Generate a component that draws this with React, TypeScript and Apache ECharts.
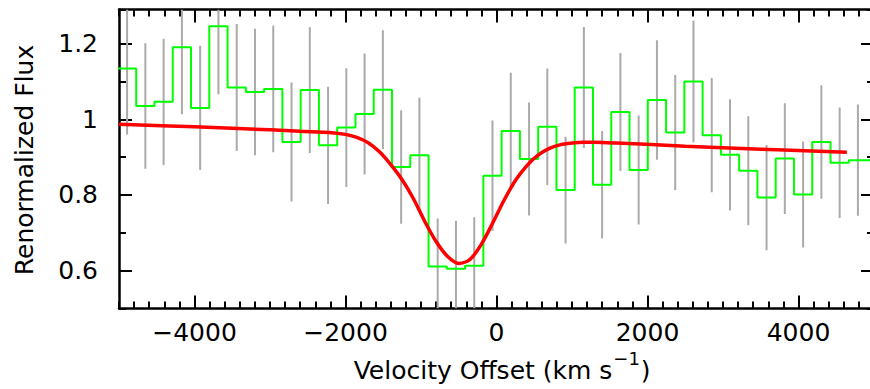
import React, { useEffect, useRef } from 'react';
import * as echarts from 'echarts';

// Bin centres (km/s) of the binned spectrum
const velocity = [
  -4893, -4651, -4409, -4167, -3925, -3683, -3441, -3199, -2957, -2715,
  -2473, -2231, -1989, -1747, -1505, -1263, -1021, -779, -537, -295,
  -53, 189, 431, 673, 915, 1157, 1399, 1641, 1883, 2125,
  2367, 2609, 2851, 3093, 3335, 3577, 3819, 4061, 4303, 4545,
  4787, 5029,
];
// Renormalized flux per bin (green histogram)
const flux = [
  1.134, 1.035, 1.046, 1.19, 1.03, 1.246, 1.084, 1.072, 1.08, 0.94,
  1.077, 0.931, 0.978, 1.014, 1.078, 0.874, 0.905, 0.611, 0.605, 0.613,
  0.851, 0.969, 0.895, 0.98, 0.813, 1.084, 0.827, 1.019, 0.866, 1.051,
  0.965, 1.1, 0.958, 0.906, 0.864, 0.793, 0.896, 0.801, 0.94, 0.885,
  0.892, 0.892,
];
// 1-sigma errors per bin (grey bars)
const fluxErr = [
  0.174, 0.166, 0.167, 0.177, 0.164, 0.18, 0.168, 0.167, 0.167, 0.157,
  0.166, 0.155, 0.157, 0.16, 0.157, 0.15, 0.152, 0.127, 0.127, 0.128,
  0.146, 0.154, 0.149, 0.154, 0.141, 0.16, 0.142, 0.156, 0.144, 0.158,
  0.152, 0.161, 0.151, 0.147, 0.144, 0.139, 0.146, 0.14, 0.15, 0.146,
  0.147, 0.147,
];
// Model fit (red curve)
const modelVelocity = [
  -5000, -4000, -3000, -2600, -2300, -2150, -2000, -1850, -1700, -1550,
  -1400, -1250, -1100, -950, -800, -650, -500, -350, -200, -50,
  100, 250, 400, 550, 700, 850, 1000, 1150, 1300, 1600,
  2500, 3500, 4640,
];
const modelFlux = [
  0.987, 0.98, 0.972, 0.968, 0.966, 0.964, 0.96, 0.952, 0.938, 0.914,
  0.88, 0.84, 0.79, 0.73, 0.677, 0.638, 0.619, 0.63, 0.67, 0.726,
  0.786, 0.838, 0.877, 0.905, 0.923, 0.933, 0.937, 0.939, 0.939, 0.937,
  0.929, 0.921, 0.913,
];
const xTickValues = [-4000, -2000, 0, 2000, 4000];
const yTickValues = [0.6, 0.8, 1.0, 1.2];

const X_MIN = -5000;
const X_MAX = 5000;
const Y_MIN = 0.5;
const Y_MAX = 1.29;
const FONT = '"DejaVu Sans", sans-serif';

function xAxisDef(position: string, major: boolean, labels: boolean) {
  return {
    type: 'value',
    position,
    min: X_MIN,
    max: X_MAX,
    interval: 200,
    axisLine: { show: !major, onZero: false, lineStyle: { color: '#000', width: 2.5 } },
    axisTick: major
      ? { show: true, inside: true, length: 13, customValues: xTickValues, lineStyle: { color: '#000', width: 2 } }
      : { show: true, inside: true, length: 7, lineStyle: { color: '#000', width: 2 } },
    axisLabel: labels
      ? {
          show: true,
          customValues: xTickValues,
          formatter: (v: number) => (v < 0 ? '\u2212' + Math.abs(v) : String(v)),
          fontSize: 25,
          fontFamily: FONT,
          color: '#000',
          margin: 11,
        }
      : { show: false },
    splitLine: { show: false },
    minorTick: { show: false },
  };
}

function yAxisDef(position: string, major: boolean, labels: boolean) {
  return {
    type: 'value',
    position,
    min: Y_MIN,
    max: Y_MAX,
    interval: 0.1,
    axisLine: { show: !major, onZero: false, lineStyle: { color: '#000', width: 2.5 } },
    axisTick: major
      ? { show: true, inside: true, length: 13, customValues: yTickValues, lineStyle: { color: '#000', width: 2 } }
      : { show: true, inside: true, length: 7, lineStyle: { color: '#000', width: 2 } },
    axisLabel: labels
      ? {
          show: true,
          customValues: yTickValues,
          formatter: (v: number) => String(Math.round(v * 10) / 10),
          fontSize: 25,
          fontFamily: FONT,
          color: '#000',
          margin: 21,
        }
      : { show: false },
    splitLine: { show: false },
  };
}

function measure(text: string, size: number): number {
  const ctx = document.createElement('canvas').getContext('2d');
  if (!ctx) return text.length * size * 0.55;
  ctx.font = `${size}px "DejaVu Sans"`;
  return ctx.measureText(text).width;
}

export default function App() {
  const ref = useRef<HTMLDivElement>(null);
  useEffect(() => {
    if (!ref.current) return;
    const chart = echarts.init(ref.current, null, { renderer: 'svg' });

    const n = velocity.length;
    const edges: number[] = [];
    for (let i = 0; i <= n; i++) {
      if (i === 0) edges.push(velocity[0] - (velocity[1] - velocity[0]) / 2);
      else if (i === n) edges.push(velocity[n - 1] + (velocity[n - 1] - velocity[n - 2]) / 2);
      else edges.push((velocity[i - 1] + velocity[i]) / 2);
    }
    const stepData = flux.map((f, i) => [edges[i], f]);
    stepData.push([edges[n], flux[n - 1]]);
    const errData = velocity.map((v, i) => [v, flux[i] - fluxErr[i], flux[i] + fluxErr[i]]);
    const modelData = modelVelocity.map((v, i) => [v, modelFlux[i]]);

    const mainText = 'Velocity Offset (km s';
    const supText = '\u22121';
    const parText = ')';
    const wMain = measure(mainText, 25);
    const wSup = measure(supText, 18);
    const x0 = 483 - wMain / 2;
    const xSup = x0 + wMain + 1;
    const xPar = xSup + wSup + 1;

    chart.setOption({
      animation: false,
      backgroundColor: '#fff',
      grid: { left: 119, top: 9.5, width: 755, height: 299, containLabel: false },
      xAxis: [
        xAxisDef('bottom', false, true),
        xAxisDef('bottom', true, false),
        xAxisDef('top', false, false),
        xAxisDef('top', true, false),
      ],
      yAxis: [
        yAxisDef('left', false, true),
        yAxisDef('left', true, false),
        yAxisDef('right', false, false),
        yAxisDef('right', true, false),
      ],
      series: [
        {
          type: 'custom',
          xAxisIndex: 0,
          yAxisIndex: 0,
          data: errData,
          clip: true,
          z: 1,
          encode: { x: 0, y: [1, 2] },
          renderItem: (_params: any, api: any) => {
            const x = api.value(0);
            if (x < X_MIN || x > X_MAX) return { type: 'group', children: [] };
            const lo = Math.max(Y_MIN, api.value(1));
            const hi = Math.min(Y_MAX, api.value(2));
            const p1 = api.coord([x, lo]);
            const p2 = api.coord([x, hi]);
            return {
              type: 'line',
              shape: { x1: p1[0], y1: p1[1], x2: p2[0], y2: p2[1] },
              style: { stroke: '#aaaaaa', lineWidth: 2 },
            };
          },
        },
        {
          type: 'line',
          xAxisIndex: 0,
          yAxisIndex: 0,
          data: stepData,
          step: 'end',
          symbol: 'none',
          clip: true,
          z: 2,
          lineStyle: { color: '#00ff00', width: 2 },
        },
        {
          type: 'line',
          xAxisIndex: 0,
          yAxisIndex: 0,
          data: modelData,
          smooth: 0.3,
          symbol: 'none',
          clip: true,
          z: 3,
          lineStyle: { color: '#ff0000', width: 3.5 },
        },
      ],
      graphic: [
        {
          type: 'text',
          x: x0,
          y: 357.5,
          style: {
            text: mainText,
            fontSize: 25,
            fontFamily: FONT,
            fill: '#000',
            align: 'left',
            verticalAlign: 'top',
          },
        },
        {
          type: 'text',
          x: xSup,
          y: 349,
          style: {
            text: supText,
            fontSize: 18,
            fontFamily: FONT,
            fill: '#000',
            align: 'left',
            verticalAlign: 'top',
          },
        },
        {
          type: 'text',
          x: xPar,
          y: 357.5,
          style: {
            text: parText,
            fontSize: 25,
            fontFamily: FONT,
            fill: '#000',
            align: 'left',
            verticalAlign: 'top',
          },
        },
        {
          type: 'text',
          x: 24.5,
          y: 160,
          rotation: Math.PI / 2,
          style: {
            text: 'Renormalized Flux',
            fontSize: 25,
            fontFamily: FONT,
            fill: '#000',
            align: 'center',
            verticalAlign: 'middle',
          },
        },
      ],
    });
    return () => chart.dispose();
  }, []);

  return (
    <div
      style={{
        position: 'fixed',
        left: 0,
        top: 0,
        width: 870,
        height: 389,
        overflow: 'hidden',
        background: '#fff',
      }}
    >
      <div ref={ref} style={{ width: 880, height: 389 }} />
    </div>
  );
}
